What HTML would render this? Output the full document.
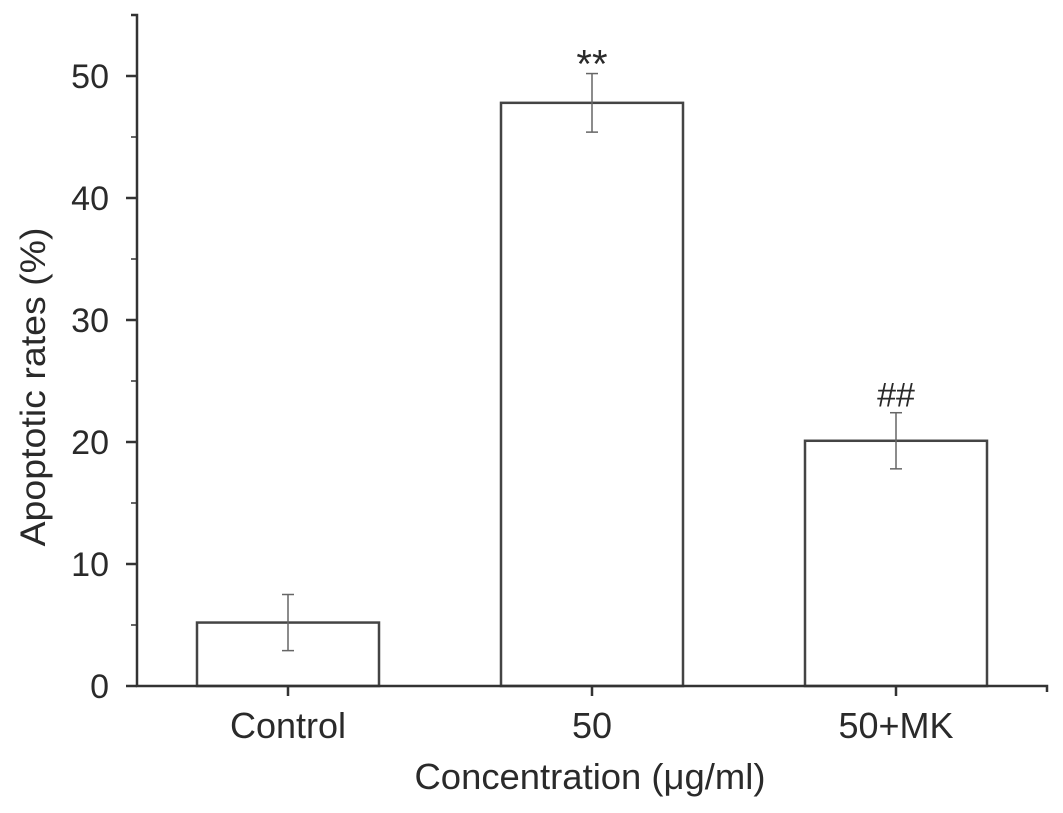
<!DOCTYPE html>
<html><head><meta charset="utf-8"><style>
html,body{margin:0;padding:0;background:#fff}
svg text{font-family:"Liberation Sans",Arial,sans-serif;fill:#2a2a2a}
</style></head><body>
<svg id="chart" width="1063" height="808" viewBox="0 0 1063 808" xmlns="http://www.w3.org/2000/svg"></svg>
<script>
const categories = ["Control", "50", "50+MK"];
const values = [5.2, 47.8, 20.1];
const errors = [2.3, 2.4, 2.3];
const marks = ["", "**", "##"];
const yTicks = [0, 10, 20, 30, 40, 50];

const NS = "http://www.w3.org/2000/svg";
const svg = document.getElementById("chart");
const x0 = 137, x1 = 1047, yBase = 686, pxPerUnit = 12.2, yTop = 15;
function y(v){ return yBase - v * pxPerUnit; }
function xc(i){ return 288 + i * 304; }
const barW = 182;
function el(tag, attrs, parent){
  const e = document.createElementNS(NS, tag);
  for (const k in attrs) e.setAttribute(k, attrs[k]);
  (parent || svg).appendChild(e);
  return e;
}
categories.forEach((c, i) => {
  const r = el("rect", {x: xc(i) - barW/2, y: y(values[i]), width: barW, height: yBase - y(values[i]), fill: "#fff", stroke: "#444", "stroke-width": 2.5});
  
  
  const g = el("g", {stroke: "#666", "stroke-width": 1.5});
  
  
  const top = y(values[i] + errors[i]), bot = y(values[i] - errors[i]);
  el("line", {x1: xc(i), x2: xc(i), y1: top, y2: bot}, g);
  el("line", {x1: xc(i) - 6, x2: xc(i) + 6, y1: top, y2: top}, g);
  el("line", {x1: xc(i) - 6, x2: xc(i) + 6, y1: bot, y2: bot}, g);
  if (marks[i]) {
    const t = el("text", {x: xc(i), y: top - 6, "text-anchor": "middle", "font-size": 34, "font-family": "Liberation Serif, serif", fill: "#555"});
    if (marks[i] === "**") { t.setAttribute("y", top + 4); t.setAttribute("font-size", 40); t.setAttribute("font-family", "Liberation Sans, sans-serif"); }
    t.textContent = marks[i];
    
    
  }
  el("line", {x1: xc(i), x2: xc(i), y1: yBase, y2: yBase + 10, stroke: "#333", "stroke-width": 2.5});
  const lab = el("text", {x: xc(i), y: 738, "text-anchor": "middle", "font-size": 36});
  lab.textContent = c;
  
  
});
const ax = el("path", {d: `M${x0-6},${yTop} H${x0} V${yBase} H${x1} V${yBase+6}`, fill: "none", stroke: "#333", "stroke-width": 2.5});


yTicks.forEach(v => {
  el("line", {x1: x0 - 11, x2: x0, y1: y(v), y2: y(v), stroke: "#333", "stroke-width": 2.5});
  el("line", {x1: x0 - 6, x2: x0, y1: y(v + 5), y2: y(v + 5), stroke: "#333", "stroke-width": 1.5});
  const t = el("text", {x: x0 - 28, y: y(v) + 12, "text-anchor": "end", "font-size": 34});
  t.textContent = v;
  
  
});
const yt = el("text", {x: 0, y: 0, transform: "translate(45,387) rotate(-90)", "text-anchor": "middle", "font-size": 35, textLength: 319, lengthAdjust: "spacingAndGlyphs"});
yt.textContent = "Apoptotic rates (%)";


const xt = el("text", {x: 590, y: 789, "text-anchor": "middle", "font-size": 36, textLength: 351, lengthAdjust: "spacingAndGlyphs"});
xt.textContent = "Concentration (\u03bcg/ml)";


</script>
</body></html>
